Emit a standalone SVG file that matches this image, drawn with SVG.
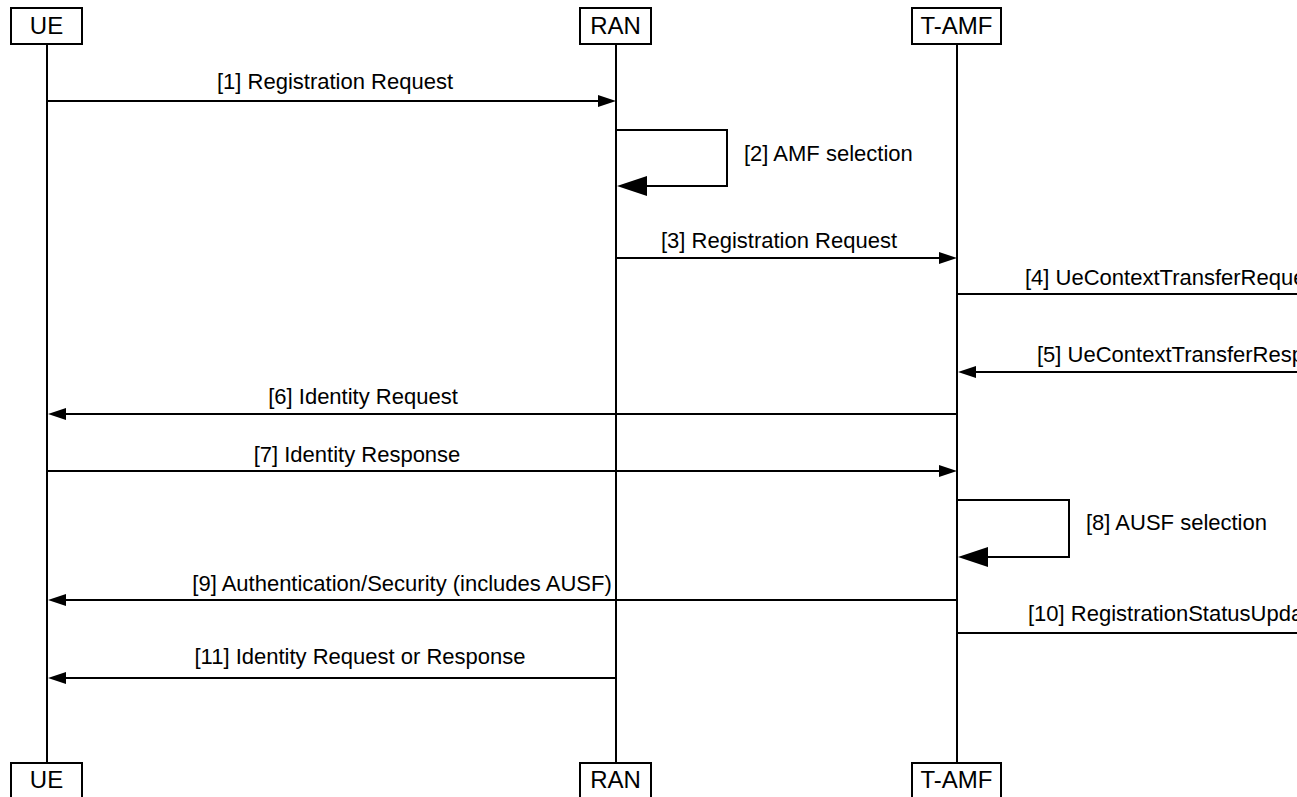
<svg xmlns="http://www.w3.org/2000/svg" width="1297" height="797" viewBox="0 0 1297 797">
<style>
  .box { fill: #ffffff; stroke: #000000; stroke-width: 2; }
  .life { stroke: #000000; stroke-width: 2; fill: none; }
  .msg { stroke: #000000; stroke-width: 2; fill: none; }
  .head { fill: #000000; stroke: none; }
  .ptxt { font-family: "Liberation Sans", Arial, sans-serif; font-size: 24px; fill: #000000; text-anchor: middle; }
  .mtxt { font-family: "Liberation Sans", Arial, sans-serif; font-size: 22px; fill: #000000; }
  .mid { text-anchor: middle; }
</style>
<rect width="1297" height="797" fill="#ffffff"/>
<g id="lifelines">
  <line class="life" x1="47" y1="44" x2="47" y2="763"/>
  <line class="life" x1="616" y1="44" x2="616" y2="763"/>
  <line class="life" x1="957" y1="44" x2="957" y2="763"/>
</g>
<g id="node-UE">
  <rect class="box" x="11" y="8" width="71" height="36"/>
  <text class="ptxt" x="46.5" y="34">UE</text>
</g>
<g id="node-RAN">
  <rect class="box" x="580" y="8" width="71" height="36"/>
  <text class="ptxt" x="615.5" y="34">RAN</text>
</g>
<g id="node-TAMF">
  <rect class="box" x="912" y="8" width="89" height="36"/>
  <text class="ptxt" x="956.5" y="34">T-AMF</text>
</g>
<g id="node-UE-bottom">
  <rect class="box" x="11" y="763" width="71" height="40"/>
  <text class="ptxt" x="46.5" y="788">UE</text>
</g>
<g id="node-RAN-bottom">
  <rect class="box" x="580" y="763" width="71" height="40"/>
  <text class="ptxt" x="615.5" y="788">RAN</text>
</g>
<g id="node-TAMF-bottom">
  <rect class="box" x="912" y="763" width="89" height="40"/>
  <text class="ptxt" x="956.5" y="788">T-AMF</text>
</g>
<g id="connectors">
  <!-- 1 -->
  <line class="msg" x1="47" y1="101" x2="600" y2="101"/>
  <polygon class="head" points="616,101 598,95 598,107"/>
  <text class="mtxt mid" x="335" y="89">[1] Registration Request</text>
  <!-- 2 -->
  <polyline class="msg" points="616,130 727,130 727,186 640,186"/>
  <polygon class="head" points="617,186 647,176 647,196"/>
  <text class="mtxt" x="744" y="161">[2] AMF selection</text>
  <!-- 3 -->
  <line class="msg" x1="616" y1="258" x2="941" y2="258"/>
  <polygon class="head" points="957,258 939,252 939,264"/>
  <text class="mtxt mid" x="779" y="248">[3] Registration Request</text>
  <!-- 4 -->
  <line class="msg" x1="957" y1="294" x2="1297" y2="294"/>
  <text class="mtxt" x="1025" y="285">[4] UeContextTransferRequest</text>
  <!-- 5 -->
  <line class="msg" x1="973" y1="372" x2="1297" y2="372"/>
  <polygon class="head" points="958,372 976,366 976,378"/>
  <text class="mtxt" x="1037" y="362">[5] UeContextTransferResponse</text>
  <!-- 6 -->
  <line class="msg" x1="63" y1="414" x2="957" y2="414"/>
  <polygon class="head" points="48,414 66,408 66,420"/>
  <text class="mtxt mid" x="363" y="404">[6] Identity Request</text>
  <!-- 7 -->
  <line class="msg" x1="47" y1="471" x2="941" y2="471"/>
  <polygon class="head" points="957,471 939,465 939,477"/>
  <text class="mtxt mid" x="357" y="462">[7] Identity Response</text>
  <!-- 8 -->
  <polyline class="msg" points="957,500 1069,500 1069,557 981,557"/>
  <polygon class="head" points="958,557 988,547 988,567"/>
  <text class="mtxt" x="1086" y="530">[8] AUSF selection</text>
  <!-- 9 -->
  <line class="msg" x1="63" y1="600" x2="957" y2="600"/>
  <polygon class="head" points="48,600 66,594 66,606"/>
  <text class="mtxt mid" x="402" y="591">[9] Authentication/Security (includes AUSF)</text>
  <!-- 10 -->
  <line class="msg" x1="957" y1="633" x2="1297" y2="633"/>
  <text class="mtxt" x="1028" y="621">[10] RegistrationStatusUpdate</text>
  <!-- 11 -->
  <line class="msg" x1="63" y1="678" x2="616" y2="678"/>
  <polygon class="head" points="48,678 66,672 66,684"/>
  <text class="mtxt mid" x="360" y="664">[11] Identity Request or Response</text>
</g>
</svg>
